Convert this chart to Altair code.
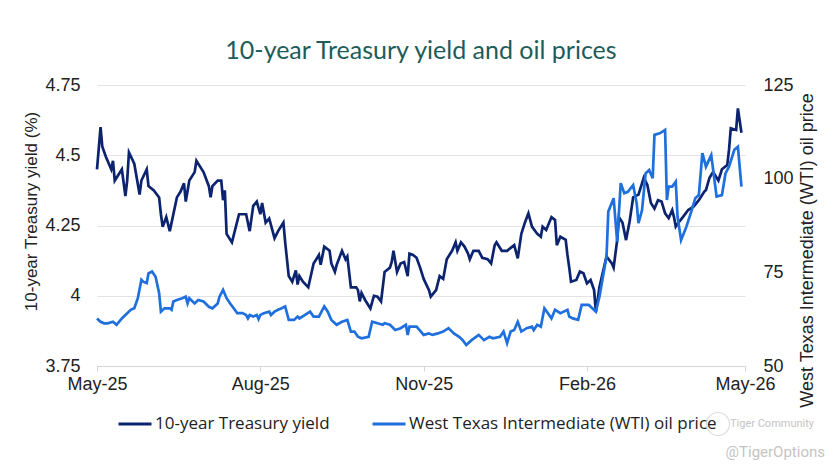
import altair as alt
import pandas as pd

# ---------------- data ----------------
yield_dates = [
    "2025-05-01", "2025-05-03", "2025-05-04", "2025-05-06", "2025-05-09", "2025-05-10",
    "2025-05-11", "2025-05-13", "2025-05-15", "2025-05-17", "2025-05-18", "2025-05-19",
    "2025-05-22", "2025-05-25", "2025-05-26", "2025-05-29", "2025-05-30", "2025-06-02",
    "2025-06-05", "2025-06-06", "2025-06-07", "2025-06-09", "2025-06-11", "2025-06-15",
    "2025-06-17", "2025-06-19", "2025-06-20", "2025-06-22", "2025-06-25", "2025-06-26",
    "2025-06-30", "2025-07-03", "2025-07-04", "2025-07-05", "2025-07-08", "2025-07-10",
    "2025-07-11", "2025-07-12", "2025-07-13", "2025-07-16", "2025-07-20", "2025-07-24",
    "2025-07-26", "2025-07-28", "2025-07-30", "2025-08-01", "2025-08-02", "2025-08-04",
    "2025-08-06", "2025-08-09", "2025-08-11", "2025-08-14", "2025-08-15", "2025-08-17",
    "2025-08-19", "2025-08-21", "2025-08-22", "2025-08-23", "2025-08-25", "2025-08-28",
    "2025-08-31", "2025-09-03", "2025-09-04", "2025-09-06", "2025-09-09", "2025-09-10",
    "2025-09-12", "2025-09-13", "2025-09-16", "2025-09-18", "2025-09-19", "2025-09-21",
    "2025-09-24", "2025-09-25", "2025-09-26", "2025-09-27", "2025-09-29", "2025-10-02",
    "2025-10-04", "2025-10-06", "2025-10-08", "2025-10-10", "2025-10-11", "2025-10-13",
    "2025-10-14", "2025-10-15", "2025-10-17", "2025-10-19", "2025-10-21", "2025-10-23",
    "2025-10-24", "2025-10-26", "2025-10-28", "2025-10-30", "2025-11-01", "2025-11-04",
    "2025-11-05", "2025-11-08", "2025-11-10", "2025-11-12", "2025-11-14", "2025-11-17",
    "2025-11-19", "2025-11-20", "2025-11-22", "2025-11-24", "2025-11-26", "2025-11-27",
    "2025-11-29", "2025-12-02", "2025-12-04", "2025-12-07", "2025-12-09", "2025-12-11",
    "2025-12-12", "2025-12-15", "2025-12-18", "2025-12-22", "2025-12-24", "2025-12-26",
    "2025-12-28", "2025-12-30", "2026-01-01", "2026-01-04", "2026-01-06", "2026-01-07",
    "2026-01-09", "2026-01-12", "2026-01-14", "2026-01-15", "2026-01-17", "2026-01-20",
    "2026-01-21", "2026-01-22", "2026-01-23", "2026-01-26", "2026-01-28", "2026-01-30",
    "2026-02-01", "2026-02-03", "2026-02-05", "2026-02-06", "2026-02-07", "2026-02-08",
    "2026-02-12", "2026-02-15", "2026-02-16", "2026-02-18", "2026-02-19", "2026-02-21",
    "2026-02-23", "2026-02-25", "2026-02-27", "2026-03-02", "2026-03-05", "2026-03-07",
    "2026-03-09", "2026-03-11", "2026-03-13", "2026-03-15", "2026-03-17", "2026-03-19",
    "2026-03-21", "2026-03-22", "2026-03-23", "2026-03-25", "2026-03-27", "2026-03-30",
    "2026-04-02", "2026-04-05", "2026-04-08", "2026-04-09", "2026-04-11", "2026-04-13",
    "2026-04-16", "2026-04-18", "2026-04-21", "2026-04-22", "2026-04-23", "2026-04-26",
    "2026-04-27", "2026-04-29",
]
yield_values = [
    4.45, 4.60, 4.53, 4.495, 4.45, 4.48,
    4.41, 4.43, 4.45, 4.355, 4.41, 4.51,
    4.47, 4.36, 4.41, 4.45, 4.39, 4.375,
    4.35, 4.29, 4.245, 4.28, 4.23, 4.35,
    4.37, 4.40, 4.335, 4.41, 4.44, 4.48,
    4.44, 4.39, 4.35, 4.39, 4.41, 4.41,
    4.34, 4.375, 4.22, 4.19, 4.29, 4.29,
    4.23, 4.32, 4.335, 4.29, 4.33, 4.26,
    4.275, 4.205, 4.23, 4.26, 4.19, 4.07,
    4.05, 4.09, 4.04, 4.07, 4.05, 4.03,
    4.115, 4.145, 4.11, 4.175, 4.16, 4.115,
    4.085, 4.11, 4.16, 4.13, 4.14, 4.03,
    4.03, 4.02, 3.98, 4.01, 3.985, 3.955,
    4.00, 3.997, 3.98, 4.085, 4.09, 4.10,
    4.12, 4.16, 4.085, 4.115, 4.12, 4.07,
    4.15, 4.145, 4.135, 4.10, 4.06, 4.02,
    3.997, 4.02, 4.07, 4.06, 4.13, 4.16,
    4.19, 4.16, 4.19, 4.175, 4.15, 4.13,
    4.16, 4.16, 4.135, 4.13, 4.115, 4.18,
    4.19, 4.16, 4.16, 4.18, 4.133, 4.22,
    4.26, 4.293, 4.246, 4.22, 4.21, 4.246,
    4.234, 4.28, 4.27, 4.18, 4.21, 4.199,
    4.145, 4.10, 4.05, 4.056, 4.086, 4.08,
    4.044, 4.056, 4.02, 3.943, 3.985, 4.03,
    4.14, 4.115, 4.10, 4.198, 4.28, 4.26,
    4.198, 4.264, 4.35, 4.36, 4.42, 4.394,
    4.33, 4.31, 4.34, 4.335, 4.293, 4.276,
    4.305, 4.28, 4.246, 4.264, 4.28, 4.305,
    4.317, 4.34, 4.37, 4.376, 4.42, 4.44,
    4.41, 4.45, 4.465, 4.52, 4.596, 4.59,
    4.667, 4.58,
]

oil_dates = [
    "2025-05-01", "2025-05-03", "2025-05-05", "2025-05-07", "2025-05-10", "2025-05-12",
    "2025-05-15", "2025-05-17", "2025-05-20", "2025-05-22", "2025-05-24", "2025-05-26",
    "2025-05-27", "2025-05-29", "2025-05-30", "2025-06-01", "2025-06-03", "2025-06-05",
    "2025-06-06", "2025-06-08", "2025-06-11", "2025-06-12", "2025-06-13", "2025-06-15",
    "2025-06-18", "2025-06-20", "2025-06-21", "2025-06-22", "2025-06-25", "2025-06-27",
    "2025-06-30", "2025-07-03", "2025-07-05", "2025-07-08", "2025-07-09", "2025-07-11",
    "2025-07-13", "2025-07-15", "2025-07-17", "2025-07-19", "2025-07-22", "2025-07-24",
    "2025-07-25", "2025-07-26", "2025-07-28", "2025-07-30", "2025-07-31", "2025-08-01",
    "2025-08-03", "2025-08-06", "2025-08-07", "2025-08-09", "2025-08-11", "2025-08-13",
    "2025-08-15", "2025-08-17", "2025-08-20", "2025-08-22", "2025-08-23", "2025-08-26",
    "2025-08-29", "2025-08-31", "2025-09-03", "2025-09-06", "2025-09-08", "2025-09-10",
    "2025-09-13", "2025-09-16", "2025-09-19", "2025-09-21", "2025-09-23", "2025-09-25",
    "2025-09-27", "2025-10-01", "2025-10-03", "2025-10-06", "2025-10-09", "2025-10-10",
    "2025-10-13", "2025-10-16", "2025-10-19", "2025-10-22", "2025-10-23", "2025-10-24",
    "2025-10-28", "2025-11-01", "2025-11-04", "2025-11-06", "2025-11-09", "2025-11-12",
    "2025-11-15", "2025-11-18", "2025-11-21", "2025-11-23", "2025-11-25", "2025-11-28",
    "2025-12-02", "2025-12-05", "2025-12-08", "2025-12-10", "2025-12-14", "2025-12-16",
    "2025-12-18", "2025-12-20", "2025-12-22", "2025-12-24", "2025-12-26", "2025-12-29",
    "2026-01-01", "2026-01-02", "2026-01-04", "2026-01-06", "2026-01-08", "2026-01-10",
    "2026-01-12", "2026-01-14", "2026-01-17", "2026-01-21", "2026-01-22", "2026-01-24",
    "2026-01-27", "2026-01-29", "2026-02-02", "2026-02-04", "2026-02-06", "2026-02-08",
    "2026-02-10", "2026-02-12", "2026-02-13", "2026-02-16", "2026-02-18", "2026-02-20",
    "2026-02-22", "2026-02-24", "2026-02-27", "2026-03-01", "2026-03-02", "2026-03-04",
    "2026-03-06", "2026-03-08", "2026-03-10", "2026-03-11", "2026-03-14", "2026-03-17",
    "2026-03-18", "2026-03-19", "2026-03-21", "2026-03-23", "2026-03-24", "2026-03-26",
    "2026-03-29", "2026-04-01", "2026-04-03", "2026-04-05", "2026-04-07", "2026-04-09",
    "2026-04-12", "2026-04-15", "2026-04-18", "2026-04-20", "2026-04-22", "2026-04-25",
    "2026-04-27", "2026-04-29",
]
oil_values = [
    62.7, 61.8, 61.4, 61.4, 61.8, 61.0,
    62.7, 63.6, 65.0, 65.4, 68.1, 73.0,
    72.5, 72.1, 74.7, 75.2, 73.8, 69.4,
    64.5, 65.4, 65.4, 65.0, 67.2, 67.6,
    68.1, 68.5, 66.7, 68.1, 66.7, 67.6,
    67.2, 65.8, 65.4, 66.7, 68.5, 70.3,
    68.1, 66.7, 65.4, 64.1, 64.1, 63.6,
    62.7, 63.6, 63.2, 63.6, 62.5, 63.6,
    64.1, 64.5, 63.6, 64.5, 65.0, 65.4,
    65.9, 62.3, 62.3, 63.2, 62.7, 63.6,
    64.5, 63.2, 63.2, 65.9, 64.5, 62.3,
    61.0, 61.8, 62.3, 59.2, 59.2, 57.8,
    57.4, 57.8, 61.8, 61.4, 61.0, 61.4,
    61.0, 59.6, 60.1, 61.0, 58.3, 60.5,
    60.5, 58.3, 58.7, 58.3, 58.7, 59.2,
    60.1, 58.7, 57.8, 56.9, 55.6, 56.9,
    58.3, 56.9, 57.8, 57.4, 57.8, 59.2,
    56.1, 59.2, 59.6, 61.8, 59.2, 60.1,
    60.5, 59.6, 61.0, 60.5, 65.4, 64.1,
    62.7, 65.0, 64.1, 65.0, 63.2, 62.7,
    62.3, 66.3, 66.3, 65.4, 64.5, 68.5,
    73.8, 79.2, 91.2, 94.8, 83.2, 98.8,
    96.1, 96.5, 98.3, 93.4, 88.1, 91.6,
    101.4, 102.3, 100.1, 111.7, 112.1, 113.0,
    94.3, 97.9, 97.9, 99.2, 89.9, 83.6,
    87.2, 91.6, 94.8, 95.6, 106.8, 103.2,
    106.3, 95.2, 95.6, 101.4, 103.2, 107.7,
    108.5, 97.9,
]

series_names = ["10-year Treasury yield", "West Texas Intermediate (WTI) oil price"]
series_colors = ["#0c2470", "#1f6fdc"]

yield_ticks = [3.75, 4.0, 4.25, 4.5, 4.75]
oil_ticks = [50, 75, 100, 125]
x_ticks = ["2025-05-01", "2025-08-01", "2025-11-01", "2026-02-01", "2026-05-01"]

title_text = "10-year Treasury yield and oil prices"
left_title = "10-year Treasury yield (%)"
right_title = "West Texas Intermediate (WTI) oil price"
watermark_1 = "Tiger Community"
watermark_2 = "@TigerOptions"

# ---------------- tables ----------------
df_yield = pd.DataFrame({"date": yield_dates, "value": yield_values, "series": series_names[0]})
df_oil = pd.DataFrame({"date": oil_dates, "value": oil_values, "series": series_names[1]})

AXIS_FONT = "Liberation Sans"
LABEL_COLOR = "#222222"

x_enc = alt.X(
    "date:T",
    scale=alt.Scale(domain=[x_ticks[0], x_ticks[-1]]),
    axis=alt.Axis(
        title=None,
        values=x_ticks,
        labelExpr="utcFormat(datum.value, '%b-%y')",
        labelFont=AXIS_FONT,
        labelFontSize=18,
        labelColor=LABEL_COLOR,
        labelPadding=4,
        tickSize=5,
        tickColor="#d6d6d6",
        domainColor="#d6d6d6",
        grid=False,
        labelFlush=False,
    ),
)

color_enc = alt.Color(
    "series:N",
    scale=alt.Scale(domain=series_names, range=series_colors),
    legend=alt.Legend(
        title=None,
        orient="none",
        direction="horizontal",
        legendX=20,
        legendY=321,
        symbolType="stroke",
        symbolSize=1089,
        symbolStrokeWidth=3,
        labelFont="Open Sans",
        labelFontSize=17,
        labelColor=LABEL_COLOR,
        labelLimit=500,
        labelOffset=2,
        columnPadding=36,
        padding=0,
    ),
)

yield_line = alt.Chart(df_yield).mark_line(strokeWidth=2.7).encode(
    x=x_enc,
    y=alt.Y(
        "value:Q",
        scale=alt.Scale(domain=[3.75, 4.75], nice=False, zero=False),
        axis=alt.Axis(
            orient="left",
            values=yield_ticks,
            labelExpr="'' + datum.value",
            title=left_title,
            titleFont=AXIS_FONT,
            titleFontSize=17,
            titleFontWeight="normal",
            titleColor=LABEL_COLOR,
            titleAngle=270,
            titleBaseline="middle",
            titleX=-66,
            titleY=126,
            labelFont=AXIS_FONT,
            labelFontSize=18,
            labelColor=LABEL_COLOR,
            labelPadding=17,
            tickSize=0,
            ticks=False,
            domain=False,
            grid=True,
            gridColor="#e3e3e3",
            gridWidth=1,
        ),
    ),
    color=color_enc,
)

oil_line = alt.Chart(df_oil).mark_line(strokeWidth=2.7).encode(
    x=x_enc,
    y=alt.Y(
        "value:Q",
        scale=alt.Scale(domain=[50, 125], nice=False, zero=False),
        axis=alt.Axis(
            orient="right",
            values=oil_ticks,
            title=right_title,
            titleAngle=270,
            titleBaseline="middle",
            titleFont=AXIS_FONT,
            titleFontSize=18,
            titleFontWeight="normal",
            titleColor=LABEL_COLOR,
            titleX=46,
            titleY=165,
            labelFont=AXIS_FONT,
            labelFontSize=18,
            labelColor=LABEL_COLOR,
            labelPadding=2,
            offset=16,
            tickSize=0,
            ticks=False,
            domain=False,
            grid=False,
        ),
    ),
    color=color_enc,
)

title_mark = alt.Chart(pd.DataFrame({"t": [title_text]})).mark_text(
    font="Lato", fontSize=25, color="#1d5c59", align="center", baseline="alphabetic"
).encode(x=alt.value(324), y=alt.value(-26), text="t:N")

wm_circle = alt.Chart(pd.DataFrame({"t": [watermark_1]})).mark_point(
    shape="circle", size=530, stroke="#cfcfcf", strokeWidth=1.2, filled=False
).encode(x=alt.value(621), y=alt.value(339))

wm_text1 = alt.Chart(pd.DataFrame({"t": [watermark_1]})).mark_text(
    font="Roboto", fontSize=11, color="#c4c4c4", align="left", baseline="middle"
).encode(x=alt.value(633), y=alt.value(339), text="t:N")

wm_text2 = alt.Chart(pd.DataFrame({"t": [watermark_2]})).mark_text(
    font="Roboto", fontSize=15, color="#c4c4c4", align="right", baseline="middle"
).encode(x=alt.value(728), y=alt.value(367), text="t:N")

chart = (
    alt.layer(yield_line, oil_line, title_mark, wm_circle, wm_text1, wm_text2)
    .resolve_scale(y="independent")
    .properties(
        width=648,
        height=281,
        autosize=alt.AutoSizeParams(type="none"),
        padding={"left": 89, "top": 77, "right": 87, "bottom": 98},
    )
    .configure_view(stroke=None)
)

chart.save("out.html", embed_options={"renderer": "svg", "actions": False})
